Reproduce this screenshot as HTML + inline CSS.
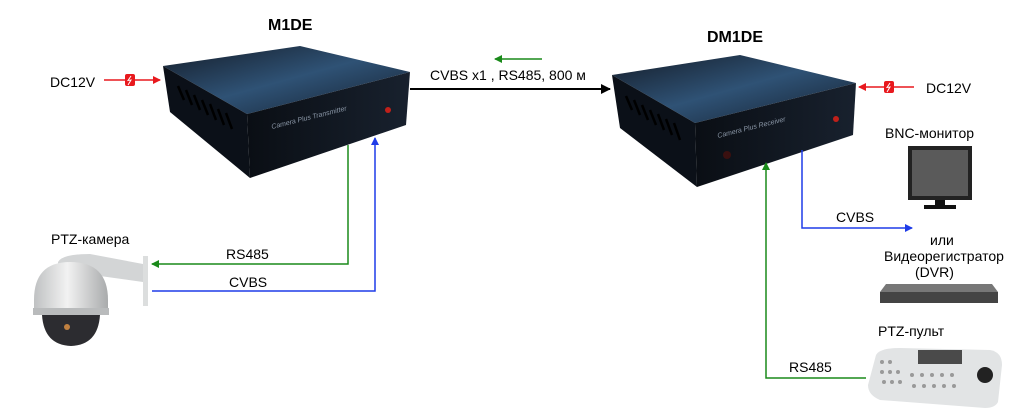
<!DOCTYPE html>
<html><head><meta charset="utf-8"><style>
html,body{margin:0;padding:0;background:#fff;}
svg{display:block}
text{font-family:"Liberation Sans",Arial,sans-serif;}
</style></head><body>
<svg width="1024" height="414" viewBox="0 0 1024 414" xmlns="http://www.w3.org/2000/svg">
<defs>
<linearGradient id="top" x1="0" y1="0" x2="1" y2="1"><stop offset="0" stop-color="#141c28"/><stop offset="0.5" stop-color="#2f5275"/><stop offset="1" stop-color="#141f2e"/></linearGradient>
<linearGradient id="front" x1="0" y1="0" x2="1" y2="0"><stop offset="0" stop-color="#0a0e14"/><stop offset="1" stop-color="#18212e"/></linearGradient>
<linearGradient id="dome" x1="0" y1="0" x2="1" y2="0"><stop offset="0" stop-color="#bfc1c2"/><stop offset="0.45" stop-color="#f2f2f2"/><stop offset="1" stop-color="#a9abac"/></linearGradient>
<marker id="ak" markerWidth="10" markerHeight="10" refX="9" refY="5" orient="auto" markerUnits="userSpaceOnUse"><path d="M0,0 L10,5 L0,10z" fill="#000"/></marker>
<marker id="ag" markerWidth="8" markerHeight="8" refX="7" refY="4" orient="auto" markerUnits="userSpaceOnUse"><path d="M0,0 L8,4 L0,8z" fill="#1a8a1a"/></marker>
<marker id="ab" markerWidth="8" markerHeight="8" refX="7" refY="4" orient="auto" markerUnits="userSpaceOnUse"><path d="M0,0 L8,4 L0,8z" fill="#1f3ce8"/></marker>
<marker id="ar" markerWidth="8" markerHeight="8" refX="7" refY="4" orient="auto" markerUnits="userSpaceOnUse"><path d="M0,0 L8,4 L0,8z" fill="#e8191e"/></marker>
</defs>

<!-- M1DE box -->
<polygon points="163,66 300,46 410,72 247,114" fill="url(#top)"/>
<polygon points="163,66 247,114 250,178 170,112" fill="#0b1018"/>
<polygon points="247,114 410,72 406,125 250,178" fill="url(#front)"/>
<g stroke="#000" stroke-width="2.5">
<line x1="178" y1="86" x2="184" y2="100"/><line x1="186" y1="90" x2="192" y2="105"/><line x1="194" y1="95" x2="200" y2="110"/><line x1="202" y1="100" x2="208" y2="115"/><line x1="210" y1="104" x2="216" y2="120"/><line x1="218" y1="109" x2="224" y2="125"/><line x1="226" y1="113" x2="232" y2="129"/>
</g>
<text x="272" y="129" fill="#8a96a6" font-size="7" font-style="italic" transform="rotate(-14 272 129)">Camera Plus  Transmitter</text>
<circle cx="388" cy="110" r="3" fill="#c0201a"/>
<text x="268" y="30" font-size="16" font-weight="bold">M1DE</text>

<!-- DM1DE box -->
<polygon points="612,75 740,55 856,83 695,123" fill="url(#top)"/>
<polygon points="612,75 695,123 697,187 620,128" fill="#0b1018"/>
<polygon points="695,123 856,83 853,135 697,187" fill="url(#front)"/>
<g stroke="#000" stroke-width="2.5">
<line x1="626" y1="96" x2="632" y2="110"/><line x1="634" y1="100" x2="640" y2="115"/><line x1="642" y1="105" x2="648" y2="120"/><line x1="650" y1="110" x2="656" y2="125"/><line x1="658" y1="114" x2="664" y2="130"/><line x1="666" y1="119" x2="672" y2="135"/><line x1="674" y1="123" x2="680" y2="140"/>
</g>
<text x="718" y="138" fill="#8a96a6" font-size="7" font-style="italic" transform="rotate(-14 718 138)">Camera Plus  Receiver</text>
<circle cx="727" cy="155" r="4" fill="#3a1010"/>
<circle cx="836" cy="119" r="3" fill="#c0201a"/>
<text x="707" y="42" font-size="16" font-weight="bold">DM1DE</text>

<!-- DC12V -->
<text x="50" y="87" font-size="14">DC12V</text>
<line x1="104" y1="80" x2="160" y2="80" stroke="#e8191e" stroke-width="1.5" marker-end="url(#ar)"/>
<rect x="125" y="74" width="10" height="12" rx="2" fill="#e8191e"/>
<path d="M131,76 L128,80.5 L131,80 L128,85" stroke="#fff" fill="none" stroke-width="1"/>
<text x="926" y="93" font-size="14">DC12V</text>
<line x1="914" y1="87" x2="859" y2="87" stroke="#e8191e" stroke-width="1.5" marker-end="url(#ar)"/>
<rect x="884" y="81" width="10" height="12" rx="2" fill="#e8191e"/>
<path d="M890,83 L887,87.5 L890,87 L887,92" stroke="#fff" fill="none" stroke-width="1"/>

<!-- main link -->
<line x1="410" y1="89" x2="610" y2="89" stroke="#000" stroke-width="2" marker-end="url(#ak)"/>
<line x1="542" y1="59" x2="495" y2="59" stroke="#1a8a1a" stroke-width="1.5" marker-end="url(#ag)"/>
<text x="430" y="80" font-size="14">CVBS x1 , RS485, 800 м</text>

<!-- camera links -->
<polyline points="348,145 348,264 152,264" fill="none" stroke="#1a8a1a" stroke-width="1.5" marker-end="url(#ag)"/>
<polyline points="152,291 375,291 375,138" fill="none" stroke="#1f3ce8" stroke-width="1.5" marker-end="url(#ab)"/>
<text x="226" y="259" font-size="14">RS485</text>
<text x="229" y="287" font-size="14">CVBS</text>

<!-- receiver links -->
<polyline points="802,150 802,228 912,228" fill="none" stroke="#1f3ce8" stroke-width="1.5" marker-end="url(#ab)"/>
<text x="836" y="222" font-size="14">CVBS</text>
<polyline points="866,378 766,378 766,163" fill="none" stroke="#1a8a1a" stroke-width="1.5" marker-end="url(#ag)"/>
<text x="789" y="372" font-size="14">RS485</text>

<!-- PTZ camera -->
<text x="51" y="244" font-size="14">PTZ-камера</text>
<rect x="143" y="256" width="5" height="50" fill="#dcdede"/>
<path d="M58,262 Q62,254 90,254 L143,264 L143,282 L100,276 Q80,266 58,270 Z" fill="#d3d5d6"/>
<path d="M34,300 Q34,262 70,262 Q108,262 108,300 L108,312 L34,312 Z" fill="url(#dome)"/>
<rect x="33" y="308" width="76" height="7" fill="#b9bbbc"/>
<path d="M42,315 Q44,345 71,346 Q98,345 100,315 Z" fill="#2c2c30"/>
<circle cx="67" cy="327" r="3" fill="#c08040"/>

<!-- monitor -->
<text x="885" y="138" font-size="14">BNC-монитор</text>
<rect x="908" y="146" width="64" height="54" fill="#222" />
<rect x="912" y="150" width="56" height="46" fill="#5a5a5a"/>
<rect x="935" y="200" width="10" height="6" fill="#111"/>
<rect x="924" y="205" width="32" height="4" fill="#111"/>
<text x="930" y="245" font-size="14">или</text>
<text x="884" y="261" font-size="14">Видеорегистратор</text>
<text x="915" y="277" font-size="14">(DVR)</text>

<!-- DVR -->
<polygon points="886,284 992,284 998,292 880,292" fill="#777"/>
<rect x="880" y="292" width="118" height="11" fill="#444"/>
<text x="878" y="336" font-size="14">PTZ-пульт</text>

<!-- keyboard -->
<path d="M876,355 Q880,348 900,348 L990,350 Q1002,352 1002,365 L998,402 Q995,408 985,408 L880,400 Q868,395 868,385 Z" fill="#e2e4e5"/>
<rect x="918" y="350" width="44" height="14" fill="#4a4a4a"/>
<circle cx="985" cy="375" r="8" fill="#222"/>
<g fill="#999">
<circle cx="882" cy="362" r="2"/><circle cx="890" cy="362" r="2"/><circle cx="882" cy="372" r="2"/><circle cx="890" cy="372" r="2"/><circle cx="898" cy="372" r="2"/><circle cx="884" cy="382" r="2"/><circle cx="892" cy="382" r="2"/><circle cx="900" cy="382" r="2"/>
<circle cx="912" cy="375" r="2"/><circle cx="922" cy="375" r="2"/><circle cx="932" cy="375" r="2"/><circle cx="942" cy="375" r="2"/><circle cx="952" cy="375" r="2"/><circle cx="914" cy="386" r="2"/><circle cx="924" cy="386" r="2"/><circle cx="934" cy="386" r="2"/><circle cx="944" cy="386" r="2"/><circle cx="954" cy="386" r="2"/>
</g>
</svg>
</body></html>
